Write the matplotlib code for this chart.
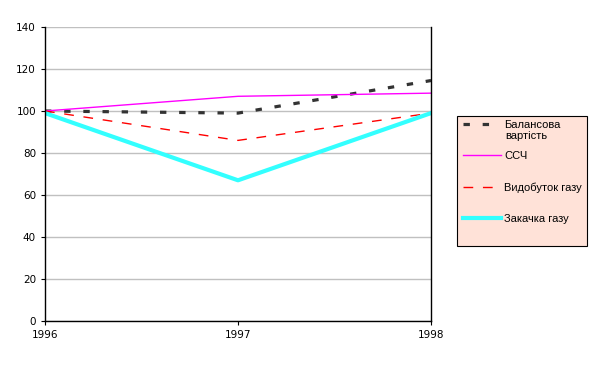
import matplotlib
matplotlib.use('Agg')
import matplotlib.pyplot as plt
from matplotlib.patches import Rectangle

years = [1996, 1997, 1998]
balance = [100, 99, 114.5]
ssch = [100, 107, 108.5]
vydobutok = [100, 86, 99]
zakachka = [99, 67, 99]

labels = ['Балансова', 'ССЧ', 'Видобуток газу', 'Закачка газу']
label_extra = 'вартість'
yticks = list(range(0, 141, 20))

plt.rcParams['font.family'] = ['DejaVu Sans']

W, H = 599, 366
fig = plt.figure(figsize=(W / 100, H / 100), dpi=100)
ax = fig.add_axes([45 / W, 1 - 321 / H, 386 / W, 294 / H])

ax.plot(years, balance, color='#333333', linewidth=2.3, linestyle=(0, (2, 4)), label=labels[0])
ax.plot(years, ssch, color='#ff00ff', linewidth=1, label=labels[1])
ax.plot(years, vydobutok, color='#ff0000', linewidth=1, linestyle=(0, (7, 7)), label=labels[2])
ax.plot(years, zakachka, color='#33ffff', linewidth=3, label=labels[3])

ax.set_xlim(1996, 1998)
ax.set_ylim(0, 140)
ax.set_yticks(yticks)
ax.set_xticks(years)
ax.yaxis.grid(True, color='#c0c0c0', linewidth=1)
ax.set_axisbelow(True)
ax.tick_params(labelsize=7.5, length=3)
for s in ['left', 'bottom', 'right']:
    ax.spines[s].set_linewidth(1)
ax.spines['top'].set_visible(False)

# legend background box drawn separately so its size matches the original
fig.patches.append(Rectangle((457 / W, 1 - 246 / H), 130 / W, 130 / H,
                             transform=fig.transFigure, facecolor='#ffe2d8',
                             edgecolor='black', linewidth=0.8, zorder=0))

leg = fig.legend(loc='upper left', bbox_to_anchor=(463 / W, 1 - 119.5 / H),
                 borderaxespad=0, prop={'family': 'Liberation Sans', 'size': 8},
                 frameon=False, labelspacing=1.92,
                 handlelength=3.4, handletextpad=0.3, borderpad=0)
fig.text(505 / W, 1 - 136 / H, label_extra, fontsize=8, family='Liberation Sans',
         va='center', ha='left')

fig.savefig('out.png', dpi=100)
